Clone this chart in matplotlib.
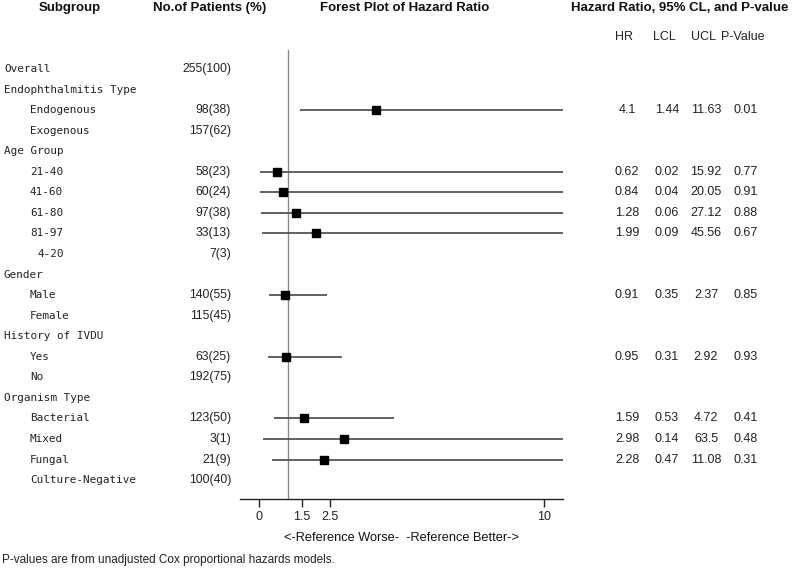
import matplotlib
matplotlib.use("Agg")
import matplotlib.pyplot as plt
import matplotlib.transforms as mtransforms
import numpy as np

# ---- data ----
labels = ["Overall", "Endophthalmitis Type", "Endogenous", "Exogenous", "Age Group",
          "21-40", "41-60", "61-80", "81-97", "4-20", "Gender", "Male", "Female",
          "History of IVDU", "Yes", "No", "Organism Type", "Bacterial", "Mixed",
          "Fungal", "Culture-Negative"]
indent = [0, 0, 1, 1, 0, 1, 1, 1, 1, 1, 0, 1, 1, 0, 1, 1, 0, 1, 1, 1, 1]
patients = ["255(100)", "", "98(38)", "157(62)", "", "58(23)", "60(24)", "97(38)",
            "33(13)", "7(3)", "", "140(55)", "115(45)", "", "63(25)", "192(75)", "",
            "123(50)", "3(1)", "21(9)", "100(40)"]
hr = [None, None, 4.1, None, None, 0.62, 0.84, 1.28, 1.99, None, None, 0.91, None,
      None, 0.95, None, None, 1.59, 2.98, 2.28, None]
lcl = [None, None, 1.44, None, None, 0.02, 0.04, 0.06, 0.09, None, None, 0.35, None,
       None, 0.31, None, None, 0.53, 0.14, 0.47, None]
ucl = [None, None, 11.63, None, None, 15.92, 20.05, 27.12, 45.56, None, None, 2.37, None,
       None, 2.92, None, None, 4.72, 63.5, 11.08, None]
pval = [None, None, 0.01, None, None, 0.77, 0.91, 0.88, 0.67, None, None, 0.85, None,
        None, 0.93, None, None, 0.41, 0.48, 0.31, None]
xticks = [0, 1.5, 2.5, 10]
xtick_labels = ["0", "1.5", "2.5", "10"]

W, H = 800, 569
fig = plt.figure(figsize=(W / 100, H / 100), dpi=100)
fig.patch.set_facecolor("white")

def fx(px):
    return px / W

def fy(py):
    return 1 - py / H

# forest axes: x pixels 240..563, y pixels 50..499
ax = fig.add_axes([fx(240), fy(499), fx(563) - fx(240), fy(50) - fy(499)])
nrows = len(labels)
ax.set_xlim(-0.67, 10.67)
ax.set_ylim(20.92, -0.925)

for i in range(nrows):
    if hr[i] is not None:
        ax.plot([lcl[i], ucl[i]], [i, i], color="#555555", lw=1.3, solid_capstyle="butt")
        ax.plot(hr[i], i, marker="s", color="black", markersize=5.5, zorder=3)

ax.axvline(1, color="#8a8a8a", lw=1.0, zorder=1)

for s in ["top", "right", "left"]:
    ax.spines[s].set_visible(False)
ax.spines["bottom"].set_color("#222222")
ax.spines["bottom"].set_linewidth(1.0)
ax.set_yticks([])
ax.set_xticks(xticks)
ax.set_xticklabels(xtick_labels, fontfamily="Liberation Sans", fontsize=9, color="#222222")
ax.tick_params(axis="x", direction="out", length=6, width=1, color="#222222", pad=3)

trans = mtransforms.blended_transform_factory(fig.transFigure, ax.transData)
mono = "DejaVu Sans Mono"
sans = "Liberation Sans"

for i in range(nrows):
    x = fx(4) if indent[i] == 0 else fx(30)
    lab = labels[i]
    if lab == "4-20":
        x = fx(37)
    ax.text(x, i, lab, transform=trans, fontfamily=mono, fontsize=7.9,
            ha="left", va="center", color="#222222", clip_on=False)
    if patients[i]:
        ax.text(fx(231), i, patients[i], transform=trans, fontfamily=sans, fontsize=8.8,
                ha="right", va="center", color="#222222", clip_on=False)
    if hr[i] is not None:
        for cx, v in zip([627, 667, 706, 746], [hr[i], lcl[i], ucl[i], pval[i]]):
            ax.text(fx(cx), i, f"{v:g}" if cx != 746 else f"{v:.2f}", transform=trans,
                    fontfamily=sans, fontsize=9, ha="center", va="center",
                    color="#222222", clip_on=False)

# headers
hdr = dict(fontfamily=sans, fontsize=9.5, fontweight="bold", ha="center", va="center",
           color="#111111")
fig.text(fx(70), fy(8), "Subgroup", **hdr)
fig.text(fx(210), fy(8), "No.of Patients (%)", **hdr)
fig.text(fx(405), fy(8), "Forest Plot of Hazard Ratio", **hdr)
fig.text(fx(680), fy(8), "Hazard Ratio, 95% CL, and P-value", **hdr)

sub = dict(fontfamily=sans, fontsize=9, ha="center", va="center", color="#222222")
fig.text(fx(624), fy(37), "HR", **sub)
fig.text(fx(664), fy(37), "LCL", **sub)
fig.text(fx(704), fy(37), "UCL", **sub)
fig.text(fx(743), fy(37), "P-Value", **sub)

fig.text(fx(401), fy(538), "<-Reference Worse-  -Reference Better->", fontfamily=sans,
         fontsize=9.2, ha="center", va="center", color="#111111")
fig.text(fx(2), fy(560), "P-values are from unadjusted Cox proportional hazards models.",
         fontfamily=sans, fontsize=8.5, ha="left", va="center", color="#222222")

fig.savefig("out.png", dpi=100, facecolor="white")
